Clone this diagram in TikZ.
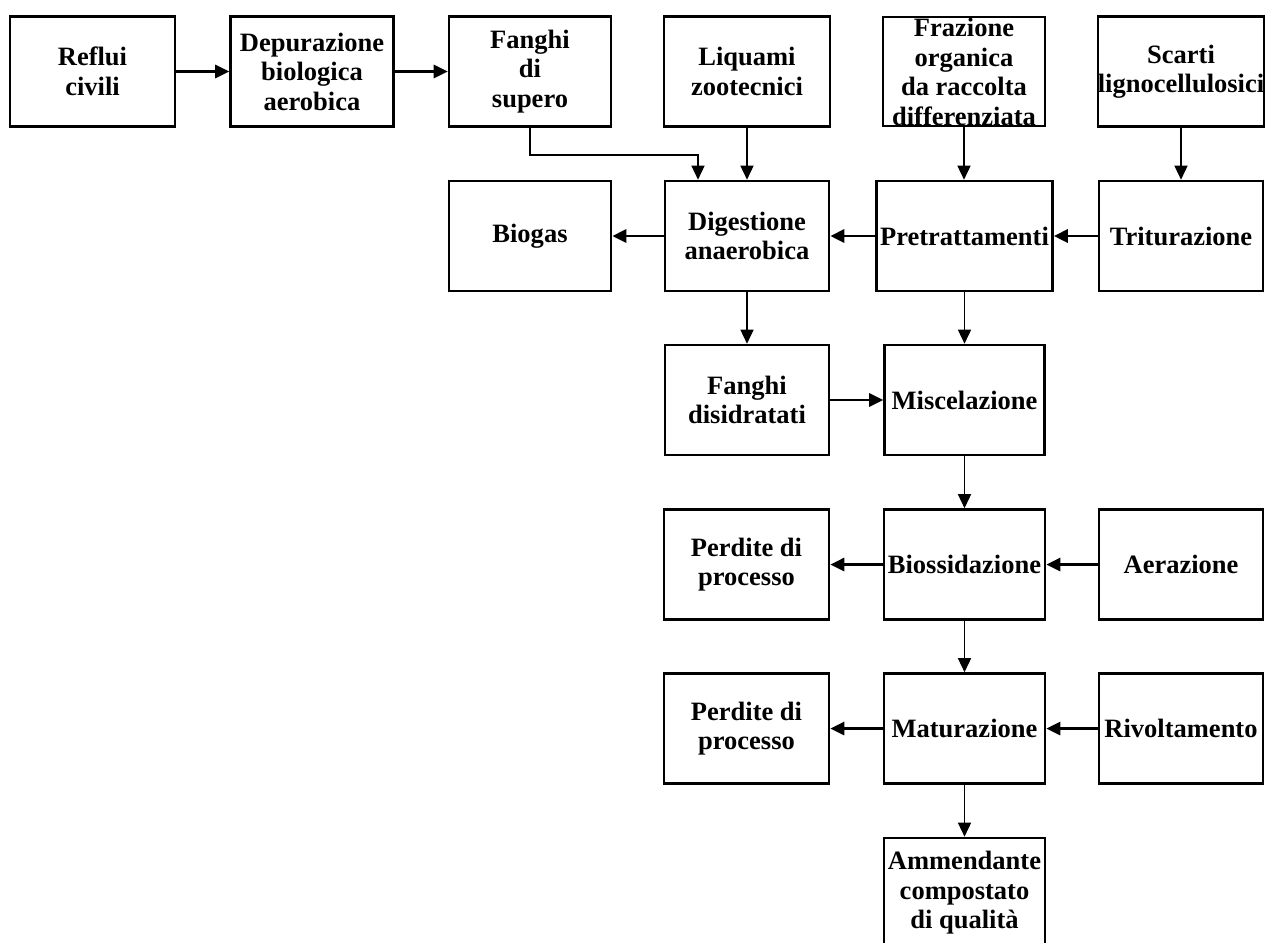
\documentclass[tikz,border=0pt]{standalone}
\usepackage{fontspec}
\setmainfont{Liberation Serif}
\usetikzlibrary{arrows.meta}
\tikzset{
  txt/.style={font=\bfseries\fontsize{26.5}{29.5}\selectfont},
  box/.style={draw, line width=2.6pt, minimum width=164pt, minimum height=110pt, inner sep=0pt, align=center, txt},
  harr/.style={line width=2.8pt, -{Triangle[length=14pt,width=13pt]}},
  varr/.style={line width=1.5pt, -{Triangle[length=14pt,width=13pt]}},
}
\begin{document}
\begin{tikzpicture}[x=1pt,y=-1pt]
\useasboundingbox (0,0) rectangle (1265,942);
\fill[white] (0,0) rectangle (1265,942);
% row 1
\node[box, minimum width=165pt] (reflui) at (92.5,71.5) {Reflui\\civili};
\node[box, minimum width=163pt] (depur) at (312,71.5) {Depurazione\\biologica\\aerobica};
\node[box, minimum width=162pt] (fsup) at (530,71.5) {Fanghi\\di\\supero};
\node[box, minimum width=166pt] (liq) at (747,71.5) {Liquami\\zootecnici};
\node[box, minimum width=162pt, minimum height=109pt] (fraz) at (964,71.5) {};
\node[txt, align=center, inner sep=0pt] (fraztxt) at (964,72) {Frazione\\organica\\da raccolta\\differenziata};
\node[box] (scarti) at (1181,71.5) {Scarti\\lignocellulosici};
% row 2
\node[box, minimum width=162pt] (biogas) at (530,236) {Biogas};
\node[box] (dig) at (747,236) {Digestione\\anaerobica};
\node[box, minimum width=176pt] (pret) at (964.5,236) {Pretrattamenti};
\node[box] (trit) at (1181,236) {Triturazione};
% row 3
\node[box] (fdis) at (747,400) {Fanghi\\disidratati};
\node[box, minimum width=160pt] (misc) at (964.5,400) {Miscelazione};
% row 4
\node[box, minimum width=165pt] (perd1) at (746.5,564.5) {Perdite di\\processo};
\node[box, minimum width=161pt] (bioss) at (964.5,564.5) {Biossidazione};
\node[box] (aer) at (1181,564.5) {Aerazione};
% row 5
\node[box, minimum width=165pt] (perd2) at (746.5,728.5) {Perdite di\\processo};
\node[box, minimum width=161pt] (mat) at (964.5,728.5) {Maturazione};
\node[box] (rivolt) at (1181,728.5) {Rivoltamento};
% row 6
\node[box, minimum width=161pt] (amm) at (964.5,893) {Ammendante\\compostato\\di qualità};
% connectors
\draw[harr] (reflui) -- (depur);
\draw[harr] (depur) -- (fsup);
\coordinate (digin) at ([xshift=-49pt]dig.north);
\draw[varr] (fsup.south) -- ++(0,27) -| (digin);
\draw[varr] (liq.south) -- (liq.south |- dig.north);
\draw[varr] (fraz.south) -- (fraz.south |- pret.north);
\draw[varr] (scarti.south) -- (scarti.south |- trit.north);
\draw[harr] (dig) -- (biogas);
\draw[harr] (pret) -- (dig);
\draw[harr] (trit) -- (pret);
\draw[varr] (dig.south) -- (dig.south |- fdis.north);
\draw[varr] (pret.south) -- (pret.south |- misc.north);
\draw[harr] (fdis) -- (misc);
\draw[varr] (misc.south) -- (misc.south |- bioss.north);
\draw[harr] (bioss) -- (perd1);
\draw[harr] (aer) -- (bioss);
\draw[varr] (bioss.south) -- (bioss.south |- mat.north);
\draw[harr] (mat) -- (perd2);
\draw[harr] (rivolt) -- (mat);
\draw[varr] (mat.south) -- (mat.south |- amm.north);
\end{tikzpicture}
\end{document}
